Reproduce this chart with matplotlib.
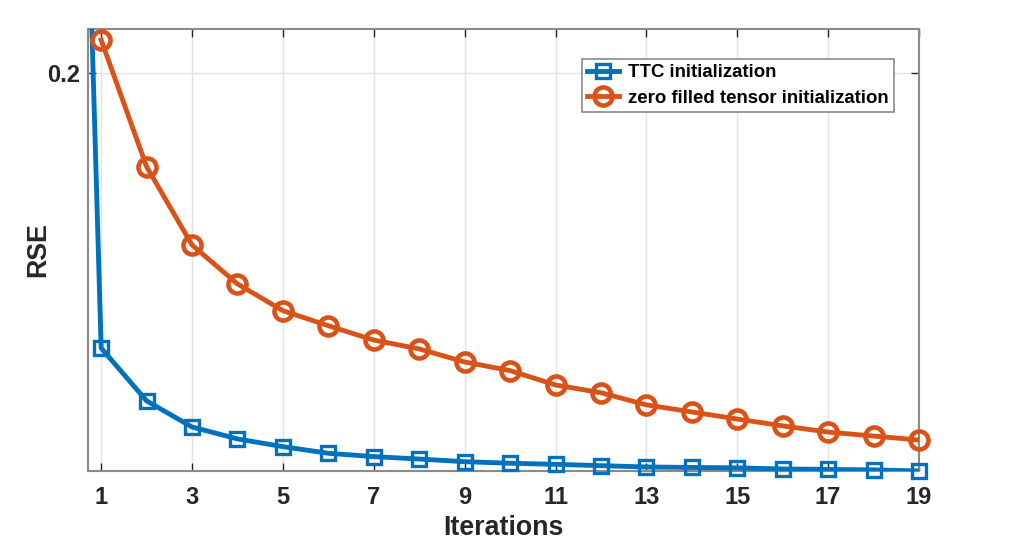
import matplotlib.pyplot as plt
import numpy as np
from matplotlib.lines import Line2D

plt.rcParams['font.family'] = ['Liberation Sans', 'DejaVu Sans']
plt.rcParams['font.weight'] = 'bold'

# TTC initialization starts at iteration 0 (far above the visible range)
iters_ttc = np.arange(0, 20)
rse_ttc = [0.78, 0.0756, 0.0517, 0.0399, 0.0345, 0.0310, 0.0280, 0.0265, 0.0254,
           0.0242, 0.0235, 0.0230, 0.0224, 0.0218, 0.0216, 0.0214, 0.0209,
           0.0207, 0.0205, 0.0200]

iters_zero = np.arange(1, 20)
rse_zero = [0.2149, 0.1576, 0.1222, 0.1046, 0.0925, 0.0857, 0.0792, 0.0752,
            0.0693, 0.0654, 0.0589, 0.0554, 0.0499, 0.0467, 0.0435, 0.0404,
            0.0376, 0.0358, 0.0340]

x_ticks = [1, 3, 5, 7, 9, 11, 13, 15, 17, 19]
y_ticks = [0.2]

blue = '#0072BD'
orange = '#D95319'

fig = plt.figure(figsize=(10.15, 5.39), dpi=100)
ax = fig.add_axes([0.0867, 0.1262, 0.8187, 0.82])

# lines (clipped) and markers (not clipped) drawn separately
ax.plot(iters_ttc, rse_ttc, color=blue, lw=3.5, zorder=3)
ax.plot(iters_ttc[1:], rse_ttc[1:], ls='none', marker='s', ms=10, mew=2.4,
        mfc='none', mec=blue, clip_on=False, zorder=4)
ax.plot(iters_zero, rse_zero, color=orange, lw=3.5, zorder=3)
ax.plot(iters_zero, rse_zero, ls='none', marker='o', ms=13, mew=3.3,
        mfc='none', mec=orange, clip_on=False, zorder=4)

ax.set_xlim(0.71, 19)
ax.set_ylim(0.02, 0.2199)
ax.set_xticks(x_ticks)
ax.set_yticks(y_ticks)
ax.set_yticklabels(['0.2'])

ax.grid(True, color='#e3e3e3', lw=1)
ax.set_axisbelow(True)
for s in ax.spines.values():
    s.set_color('#8a8a8a')
    s.set_linewidth(1.5)
ax.tick_params(direction='in', top=True, right=True, length=6, width=1,
               color='#262626', labelsize=17, labelcolor='#262626')
ax.tick_params(axis='x', pad=11)
ax.tick_params(axis='y', pad=6)

ax.set_xlabel('Iterations', fontsize=19.3, fontweight='bold', color='#262626', labelpad=4)
ax.set_ylabel('RSE', fontsize=19.3, fontweight='bold', color='#262626', labelpad=-3)

handles = [
    Line2D([], [], color=blue, lw=3.5, marker='s', ms=10, mew=2.4, mfc='none', mec=blue),
    Line2D([], [], color=orange, lw=3.5, marker='o', ms=13, mew=3.3, mfc='none', mec=orange),
]
leg = ax.legend(handles, ['TTC initialization', 'zero filled tensor initialization'],
                loc='upper left', bbox_to_anchor=(0.594, 0.932), borderaxespad=0,
                fontsize=13.4, fancybox=False, framealpha=1, edgecolor='#8a8a8a',
                handlelength=1.75, handletextpad=0.45, labelspacing=0.45,
                borderpad=0.28)
leg.get_frame().set_linewidth(1.2)
for t in leg.get_texts():
    t.set_fontweight('bold')

fig.savefig('out.png', dpi=100)
